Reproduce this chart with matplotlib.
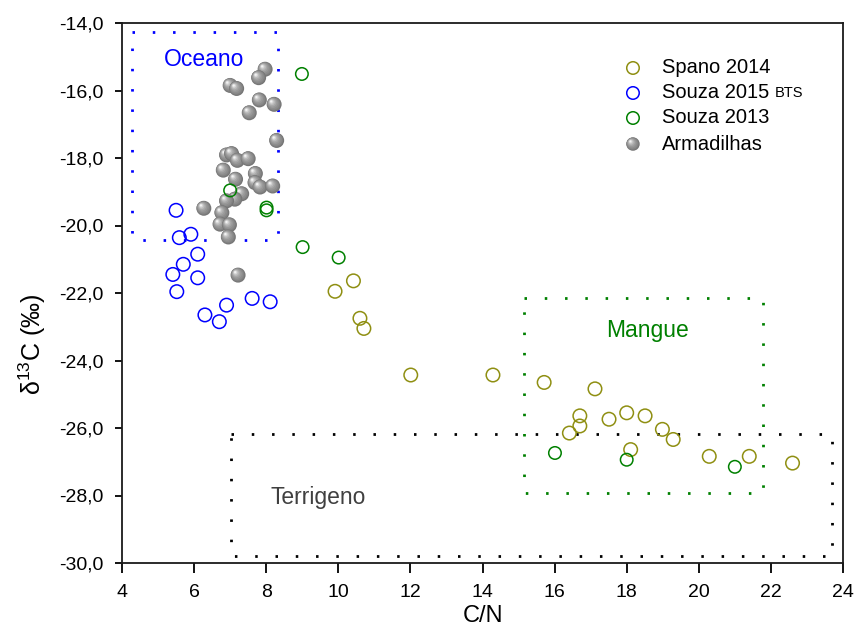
import matplotlib
matplotlib.use("Agg")
import matplotlib.pyplot as plt
from matplotlib.transforms import offset_copy

plt.rcParams['font.family'] = ['Liberation Sans', 'DejaVu Sans']
plt.rcParams['mathtext.fontset'] = 'custom'
plt.rcParams['mathtext.rm'] = 'Liberation Sans'
plt.rcParams['mathtext.it'] = 'Liberation Sans:italic'
plt.rcParams['mathtext.bf'] = 'Liberation Sans:bold'

# ---- data: C/N ratio vs delta13C ----
spano_cn = [9.91, 10.42, 10.60, 10.71, 12.01, 14.29, 15.71, 16.41, 16.70, 16.70,
            17.12, 17.51, 18.00, 18.11, 18.51, 18.99, 19.29, 20.29, 21.40, 22.60]
spano_d13c = [-21.95, -21.64, -22.75, -23.05, -24.43, -24.43, -24.65, -26.15, -25.64, -25.94,
              -24.84, -25.74, -25.55, -26.64, -25.64, -26.04, -26.34, -26.84, -26.84, -27.04]

souza15_cn = [5.50, 5.59, 5.91, 6.10, 5.70, 5.41, 6.10, 5.52, 6.90, 7.61, 8.11, 6.30, 6.70]
souza15_d13c = [-19.55, -20.36, -20.26, -20.85, -21.15, -21.45, -21.55, -21.96, -22.36,
                -22.16, -22.26, -22.65, -22.85]

souza13_cn = [8.99, 7.00, 8.01, 8.01, 9.01, 10.01, 16.01, 18.00, 21.00]
souza13_d13c = [-15.51, -18.96, -19.47, -19.55, -20.64, -20.95, -26.74, -26.94, -27.15]

armad_cn = [7.97, 7.79, 7.00, 7.18, 7.81, 8.22, 7.53, 8.29, 6.90, 7.04, 7.20, 7.50, 6.81,
            7.15, 7.70, 7.69, 7.83, 8.18, 7.32, 7.13, 6.90, 6.27, 6.77, 6.72, 6.98, 6.95, 7.22]
armad_d13c = [-15.37, -15.62, -15.85, -15.94, -16.28, -16.41, -16.66, -17.48, -17.91, -17.87,
              -18.07, -18.02, -18.36, -18.63, -18.46, -18.73, -18.86, -18.83, -19.06, -19.22,
              -19.27, -19.49, -19.62, -19.96, -19.98, -20.34, -21.47]

# source regions: (C/N min, C/N max, d13C min, d13C max)
region_names = ['Oceano', 'Mangue', 'Terrigeno']
region_bounds = [(4.27, 8.34, -20.43, -14.26),
                 (15.15, 21.79, -27.92, -22.15),
                 (7.02, 23.70, -29.79, -26.19)]
region_label_pos = [(6.28, -15.07), (18.59, -23.12), (9.44, -28.05)]

x_ticks = [4, 6, 8, 10, 12, 14, 16, 18, 20, 22, 24]
y_ticks = [-14, -16, -18, -20, -22, -24, -26, -28, -30]
y_tick_labels = ['-14,0', '-16,0', '-18,0', '-20,0', '-22,0', '-24,0', '-26,0', '-28,0', '-30,0']

series_labels = ['Spano 2014', 'Souza 2015', 'Souza 2013', 'Armadilhas']

# ---- styling ----
OLIVE = '#8f8f12'
BLUE = '#0000ff'
GREEN = '#008000'
region_colors = [BLUE, GREEN, 'black']
region_text_colors = [BLUE, GREEN, '#404040']

fig = plt.figure(figsize=(8.56, 6.31), dpi=100)
ax = fig.add_axes([122 / 856, 1 - 563 / 631, 721 / 856, 540 / 631])
ax.set_xlim(4, 24)
ax.set_ylim(-30, -14)


def px_to_s(d):
    return (d * 72 / fig.dpi) ** 2


# shaded sphere: stacked discs shifted toward the upper-left highlight
sphere_layers = [(15, 0.0, 0.0, '#767676'),
                 (13.5, -0.4, 0.4, '#828282'),
                 (12, -0.8, 0.8, '#8d8d8d'),
                 (10, -1.3, 1.3, '#999999'),
                 (8, -1.8, 1.8, '#a8a8a8'),
                 (6, -2.2, 2.2, '#bcbcbc'),
                 (4, -2.6, 2.6, '#d6d6d6'),
                 (2.2, -2.9, 2.9, '#f2f2f2')]


def draw_sphere(x, y, transform, scale=1.0, z=3):
    for d, dx, dy, c in sphere_layers:
        tr = offset_copy(transform, fig=fig, x=dx * scale, y=dy * scale, units='dots')
        ax.scatter([x], [y], s=px_to_s(d * scale), color=c, edgecolors='none',
                   transform=tr, zorder=z, clip_on=False)


for x, y in zip(armad_cn, armad_d13c):
    draw_sphere(x, y, ax.transData)

circle_s = px_to_s(13.5)
ax.scatter(spano_cn, spano_d13c, s=circle_s, facecolors='none', edgecolors=OLIVE,
           linewidths=1.1, zorder=4)
ax.scatter(souza15_cn, souza15_d13c, s=circle_s, facecolors='none', edgecolors=BLUE,
           linewidths=1.1, zorder=4)
ax.scatter(souza13_cn, souza13_d13c, s=px_to_s(12.5), facecolors='none', edgecolors=GREEN,
           linewidths=1.1, zorder=4)

# dotted region outlines
for (x0, x1, y0, y1), col in zip(region_bounds, region_colors):
    ax.plot([x0, x1, x1, x0, x0], [y1, y1, y0, y0, y1], color=col, linewidth=2.0,
            linestyle=(0, (0.9, 6.4)), solid_capstyle='butt', dash_capstyle='butt',
            zorder=2)

for name, (tx, ty), col in zip(region_names, region_label_pos, region_text_colors):
    ax.text(tx, ty, name, color=col, fontsize=16.5, ha='center', va='center', zorder=5)

# axes
ax.set_xticks(x_ticks)
ax.set_xticklabels([str(v) for v in x_ticks])
ax.set_yticks(y_ticks)
ax.set_yticklabels(y_tick_labels)
ax.tick_params(axis='x', direction='out', length=7, width=1.3, pad=8, labelsize=14)
ax.tick_params(axis='y', direction='out', length=5, width=1.3, pad=8, labelsize=14)
for sp in ax.spines.values():
    sp.set_linewidth(1.3)
    sp.set_color('#1a1a1a')

ax.set_xlabel('C/N', fontsize=17)
ax.xaxis.set_label_coords(0.5, -0.078)
ax.set_ylabel('δ$^{13}$C (‰)', fontsize=18)
ax.yaxis.set_label_coords(-0.103, 0.405)

# legend drawn in axes coordinates
leg_x_marker = 0.7087
leg_x_text = 0.749
leg_rows = [0.9167, 0.8704, 0.8241, 0.7759]
leg_colors = [OLIVE, BLUE, GREEN]
for yy, col in zip(leg_rows[:3], leg_colors):
    ax.scatter([leg_x_marker], [yy], s=px_to_s(12.5), facecolors='none', edgecolors=col,
               linewidths=1.1, transform=ax.transAxes, zorder=6, clip_on=False)
draw_sphere(leg_x_marker, leg_rows[3], ax.transAxes, scale=0.9, z=6)

leg_texts = []
for yy, lab in zip(leg_rows, series_labels):
    t = ax.text(leg_x_text, yy, lab, transform=ax.transAxes, fontsize=14.5,
                ha='left', va='center', zorder=6)
    leg_texts.append(t)
ax.annotate('BTS', xy=(1, 0), xycoords=leg_texts[1], xytext=(4, 1.5),
            textcoords='offset points', fontsize=10.5, ha='left', va='bottom')

fig.savefig('out.png', dpi=100)
